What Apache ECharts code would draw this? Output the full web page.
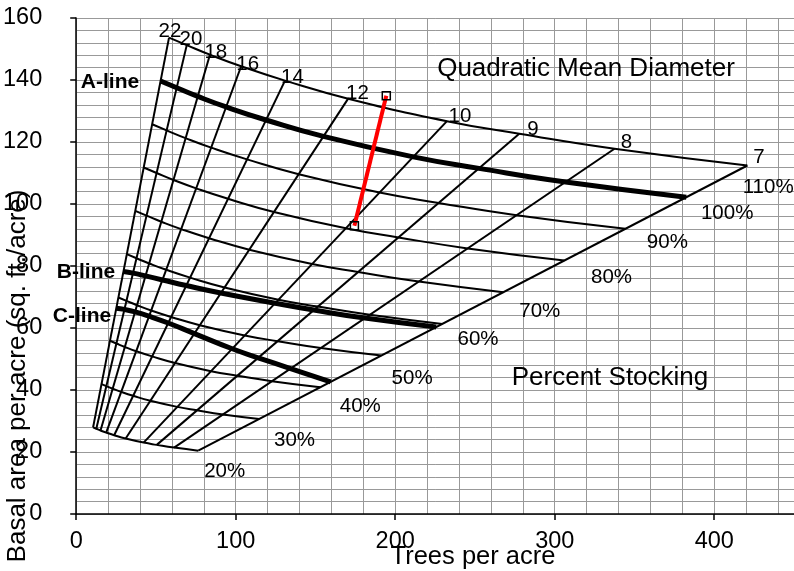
<!DOCTYPE html>
<html>
<head>
<meta charset="utf-8">
<script src="https://cdn.jsdelivr.net/npm/echarts@6/dist/echarts.min.js"></script>
<style>
html,body{margin:0;padding:0;background:#fff;}
#chart{width:794px;height:571px;}
</style>
</head>
<body>
<div id="chart"></div>
<script>
// ---------------- DATA ----------------
// Quadratic mean diameter (inches) of each diameter line, left to right
const diameters = [22, 20, 18, 16, 14, 12, 10, 9, 8, 7];
const diameterLabels = ['22', '20', '18', '16', '14', '12', '10', '9', '8', '7'];
// A-line (100 % stocking) node for each diameter: trees per acre and basal area
const aLineTPA = [52.9, 63.0, 76.2, 94.0, 119.0, 155.0, 211.3, 252.5, 306.8, 382.5];
const aLineBA  = [139.7, 137.5, 134.7, 131.3, 127.1, 121.8, 115.2, 111.5, 107.1, 102.2];
// Percent stocking curves drawn on the chart
const stockingLevels = [20, 30, 40, 50, 60, 70, 80, 90, 100, 110];
const stockingLabels = ['20%', '30%', '40%', '50%', '60%', '70%', '80%', '90%', '100%', '110%'];
// B-line and C-line nodes (at each diameter line)
const bLineTPA = [29.6, 35.6, 43.4, 54.1, 69.0, 90.7, 124.7, 149.0, 181.0, 225.7];
const bLineBA  = [78.2, 77.7, 76.8, 75.5, 73.7, 71.3, 68.0, 65.8, 63.2, 60.3];
const cLineTPA = [25.1, 30.2, 36.9, 45.7, 57.7, 74.1, 97.8, 114.1, 134.4, 159.5];
const cLineBA  = [66.4, 66.0, 65.2, 63.8, 61.6, 58.2, 53.3, 50.4, 46.9, 42.6];
// Red measured segment
const redTPA = [174.4, 194.4];
const redBA  = [93.0, 134.9];
// Axis tick values
const xTicks = [0, 100, 200, 300, 400];
const yTicks = [0, 20, 40, 60, 80, 100, 120, 140, 160];

// ---------------- LAYOUT (label anchor positions, in axis units) ----------------
const LAYOUT = {
  diamLabelPos: [[58.8,155.7],[71.9,153.1],[87.5,148.9],[107.5,145.1],[135.6,140.9],
                 [176.3,135.7],[240.6,128.3],[286.3,124.1],[345.0,119.9],[428.1,115.1]],
  stockLabelPos: [[93.1,13.9],[136.9,23.9],[178.1,34.6],[210.6,43.6],[251.9,56.2],
                  [290.6,65.5],[335.6,76.4],[370.6,87.7],[408.1,97.1],[433.8,105.4]]
};

const FONT = 'Liberation Sans, Arial, Helvetica, sans-serif';
const chart = echarts.init(document.getElementById('chart'), null, {renderer: 'canvas'});
const SMOOTH = 0.5;

const series = [];
// stocking curves: each is the given percent of the A-line nodes
stockingLevels.forEach(function (s) {
  series.push({
    type: 'line', xAxisIndex: 0, yAxisIndex: 0, showSymbol: false, symbol: 'none', silent: true,
    smooth: SMOOTH,
    data: diameters.map(function (d, i) { return [aLineTPA[i] * s / 100, aLineBA[i] * s / 100]; }),
    lineStyle: {color: '#000', width: s === 100 ? 5 : 2},
    z: s === 100 ? 4 : 3
  });
});
// diameter lines from the lowest to the highest stocking curve
const sMin = Math.min.apply(null, stockingLevels), sMax = Math.max.apply(null, stockingLevels);
diameters.forEach(function (d, i) {
  series.push({
    type: 'line', xAxisIndex: 0, yAxisIndex: 0, showSymbol: false, symbol: 'none', silent: true,
    data: [[aLineTPA[i] * sMin / 100, aLineBA[i] * sMin / 100], [aLineTPA[i] * sMax / 100, aLineBA[i] * sMax / 100]],
    lineStyle: {color: '#000', width: 2}, z: 3
  });
});
// B-line and C-line
[[bLineTPA, bLineBA], [cLineTPA, cLineBA]].forEach(function (p) {
  series.push({
    type: 'line', xAxisIndex: 0, yAxisIndex: 0, showSymbol: false, symbol: 'none', silent: true,
    smooth: SMOOTH,
    data: p[0].map(function (t, i) { return [t, p[1][i]]; }),
    lineStyle: {color: '#000', width: 5}, z: 4
  });
});
// red segment
series.push({
  type: 'line', xAxisIndex: 0, yAxisIndex: 0, silent: true,
  data: redTPA.map(function (t, i) { return [t, redBA[i]]; }),
  symbol: 'rect', symbolSize: 8, showSymbol: true,
  lineStyle: {color: '#ff0000', width: 4},
  itemStyle: {color: 'rgba(0,0,0,0)', borderColor: '#000', borderWidth: 1.5},
  z: 6
});

const GRID = {left: 75, top: 18, width: 720, height: 496};
const xMin = xTicks[0], xMax = 450, yMin = yTicks[0], yMax = yTicks[yTicks.length - 1];
const xStep = xTicks[1] - xTicks[0], yStep = yTicks[1] - yTicks[0];

const fixedText = [
  {type: 'text', x: 586, y: 69, z: 100,
   style: {text: 'Quadratic Mean Diameter', fill: '#000', font: '26px ' + FONT, align: 'center', verticalAlign: 'middle'}},
  {type: 'text', x: 610, y: 378, z: 100,
   style: {text: 'Percent Stocking', fill: '#000', font: '26px ' + FONT, align: 'center', verticalAlign: 'middle'}},
  {type: 'text', x: 110, y: 82, z: 100,
   style: {text: 'A-line', fill: '#000', font: 'bold 21px ' + FONT, align: 'center', verticalAlign: 'middle'}},
  {type: 'text', x: 86, y: 272, z: 100,
   style: {text: 'B-line', fill: '#000', font: 'bold 21px ' + FONT, align: 'center', verticalAlign: 'middle'}},
  {type: 'text', x: 82, y: 316, z: 100,
   style: {text: 'C-line', fill: '#000', font: 'bold 21px ' + FONT, align: 'center', verticalAlign: 'middle'}},
  {type: 'text', x: 473, y: 557, z: 100,
   style: {text: 'Trees per acre', fill: '#000', font: '25.5px ' + FONT, align: 'center', verticalAlign: 'middle'}},
  {type: 'text', x: 18, y: 376, rotation: Math.PI / 2, z: 100,
   style: {text: 'Basal area per acre (sq. ft./acre)', fill: '#000', font: '26px ' + FONT, align: 'center', verticalAlign: 'middle'}}
];

const option = {
  animation: false,
  backgroundColor: '#fff',
  grid: [GRID],
  xAxis: [
    { // labelled axis
      type: 'value', min: xMin, max: xMax, interval: xStep, position: 'bottom',
      axisLine: {show: true, onZero: false, lineStyle: {color: '#000', width: 1.5}},
      axisTick: {show: true, inside: false, length: 6, lineStyle: {color: '#000', width: 1.5}},
      axisLabel: {show: true, margin: 16, fontSize: 23.5, color: '#000', fontFamily: FONT,
                  showMaxLabel: false},
      splitLine: {show: false}, z: 5
    },
    { // fine grid
      type: 'value', min: xMin, max: xMax, interval: xStep / 5, position: 'bottom',
      axisLine: {show: false}, axisTick: {show: false}, axisLabel: {show: false},
      splitLine: {show: true, lineStyle: {color: '#999', width: 1}}
    }
  ],
  yAxis: [
    {
      type: 'value', min: yMin, max: yMax, interval: yStep, position: 'left',
      axisLine: {show: true, onZero: false, lineStyle: {color: '#000', width: 1.5}},
      axisTick: {show: true, inside: false, length: 6, lineStyle: {color: '#000', width: 1.5}},
      axisLabel: {show: true, margin: 34, fontSize: 23.5, color: '#000', fontFamily: FONT},
      splitLine: {show: false}, z: 5
    },
    {
      type: 'value', min: yMin, max: yMax, interval: yStep / 5, position: 'left',
      axisLine: {show: false}, axisTick: {show: false}, axisLabel: {show: false},
      splitLine: {show: true, lineStyle: {color: '#999', width: 1}}
    }
  ],
  graphic: fixedText,
  series: series
};
chart.setOption(option);

// place the curve labels at their anchor points via the chart's own scales
function labelGraphic(text, pos) {
  const p = chart.convertToPixel({xAxisIndex: 0, yAxisIndex: 0}, pos);
  return {type: 'text', x: p[0], y: p[1], z: 100,
          style: {text: text, fill: '#000', font: '20.5px ' + FONT, align: 'center', verticalAlign: 'middle'}};
}
const curveLabels = diameterLabels.map(function (l, i) { return labelGraphic(l, LAYOUT.diamLabelPos[i]); })
  .concat(stockingLabels.map(function (l, i) { return labelGraphic(l, LAYOUT.stockLabelPos[i]); }));
chart.setOption({graphic: fixedText.concat(curveLabels)}, {replaceMerge: ['graphic']});
</script>
</body>
</html>
